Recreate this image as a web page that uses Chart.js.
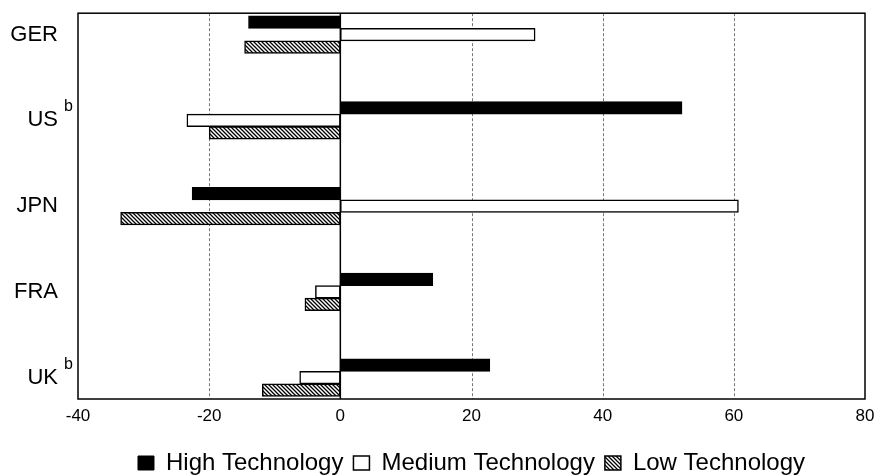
<!DOCTYPE html>
<html>
<head>
<meta charset="utf-8">
<script src="https://cdn.jsdelivr.net/npm/chart.js@4.4.1/dist/chart.umd.min.js"></script>
<style>
  html, body { margin: 0; padding: 0; background: #fff; }
  #wrap { width: 879px; height: 475px; }
</style>
</head>
<body>
<div id="wrap"><canvas id="techChart"></canvas></div>
<script>
const categories = ['GER', 'US', 'JPN', 'FRA', 'UK'];
const notes = ['', 'b', '', '', 'b'];
const highTech = [-14.0, 52.1, -22.6, 14.1, 22.8];
const mediumTech = [29.7, -23.4, 60.7, -3.8, -6.2];
const lowTech = [-14.6, -20.0, -33.5, -5.4, -11.9];
const xTicks = [-40, -20, 0, 20, 40, 60, 80];

const FONT = "'Liberation Sans', Arial, sans-serif";

function hatchPattern() {
  const c = document.createElement('canvas');
  c.width = 4; c.height = 4;
  const g = c.getContext('2d');
  g.fillStyle = '#fff';
  g.fillRect(0, 0, 4, 4);
  g.strokeStyle = '#000';
  g.lineWidth = 1.3;
  g.beginPath();
  g.moveTo(-1, -1); g.lineTo(5, 5);
  g.moveTo(3, -1); g.lineTo(5, 1);
  g.moveTo(-1, 3); g.lineTo(1, 5);
  g.stroke();
  return g.createPattern(c, 'repeat');
}

function points(values) {
  return values.map((v, i) => ({ x: v, y: i }));
}

// dashed grid, zero line, plot frame and the superscript notes
const chartDecor = {
  id: 'chartDecor',
  beforeDatasetsDraw(chart) {
    const { ctx, chartArea: a, scales: { x } } = chart;
    ctx.save();
    ctx.strokeStyle = '#777';
    ctx.lineWidth = 1;
    ctx.setLineDash([3, 2]);
    xTicks.slice(1, -1).forEach(v => {
      if (v === 0) return;
      const px = Math.round(x.getPixelForValue(v)) + 0.5;
      ctx.beginPath();
      ctx.moveTo(px, a.top);
      ctx.lineTo(px, a.bottom);
      ctx.stroke();
    });
    ctx.restore();
  },
  afterDatasetsDraw(chart) {
    const { ctx, chartArea: a, scales: { x } } = chart;
    ctx.save();
    ctx.strokeStyle = '#000';
    ctx.lineWidth = 1.5;
    const zx = x.getPixelForValue(0);
    ctx.beginPath();
    ctx.moveTo(zx, a.top);
    ctx.lineTo(zx, a.bottom);
    ctx.stroke();
    ctx.strokeRect(a.left, a.top, a.right - a.left, a.bottom - a.top);
    ctx.restore();
  },
  afterDraw(chart) {
    const { ctx, scales: { y } } = chart;
    ctx.save();
    ctx.fillStyle = '#000';
    ctx.font = '16px ' + FONT;
    ctx.textAlign = 'left';
    ctx.textBaseline = 'alphabetic';
    notes.forEach((n, i) => {
      if (!n) return;
      const py = y.getPixelForValue(i);
      ctx.fillText(n, y.right - 14, py - 9);
    });
    ctx.restore();
  }
};

const chart = new Chart(document.getElementById('techChart'), {
  type: 'bar',
  data: {
    datasets: [{
      label: 'High Technology',
      data: points(highTech),
      backgroundColor: '#000',
      borderColor: '#000',
      borderWidth: 1
    }, {
      label: 'Medium Technology',
      data: points(mediumTech),
      backgroundColor: '#fff',
      borderColor: '#000',
      borderWidth: 1.5
    }, {
      label: 'Low Technology',
      data: points(lowTech),
      backgroundColor: hatchPattern(),
      borderColor: '#000',
      borderWidth: 1.5
    }]
  },
  options: {
    indexAxis: 'y',
    responsive: true,
    maintainAspectRatio: false,
    animation: false,
    layout: {
      // legend row sits low, so its spare bottom padding runs past the canvas
      padding: { top: 13, right: 14, bottom: -10, left: 0 }
    },
    datasets: {
      bar: {
        barThickness: 12.5,
        borderSkipped: false
      }
    },
    scales: {
      x: {
        type: 'linear',
        min: -40,
        max: 80,
        afterBuildTicks: s => { s.ticks = xTicks.map(v => ({ value: v })); },
        afterFit: s => { s.height = 42; },
        grid: { display: false, drawTicks: true, tickLength: 7 },
        border: { display: false },
        ticks: {
          color: '#000',
          padding: 0,
          font: { family: FONT, size: 17 }
        }
      },
      y: {
        type: 'linear',
        reverse: true,
        offset: false,
        min: -0.25,
        max: 4.25,
        afterBuildTicks: s => { s.ticks = categories.map((c, i) => ({ value: i })); },
        afterFit: s => { s.width = 78; },
        grid: { display: false, offset: false, drawTicks: true, tickLength: 20 },
        border: { display: false },
        ticks: {
          color: '#000',
          padding: 0,
          font: { family: FONT, size: 22 },
          callback: v => categories[v]
        }
      }
    },
    plugins: {
      legend: {
        position: 'bottom',
        fullSize: false,
        labels: {
          color: '#000',
          boxWidth: 16,
          boxHeight: 14,
          padding: 10,
          font: { family: FONT, size: 24, lineHeight: 1 }
        }
      },
      tooltip: { enabled: false }
    }
  },
  plugins: [chartDecor]
});
</script>
</body>
</html>
